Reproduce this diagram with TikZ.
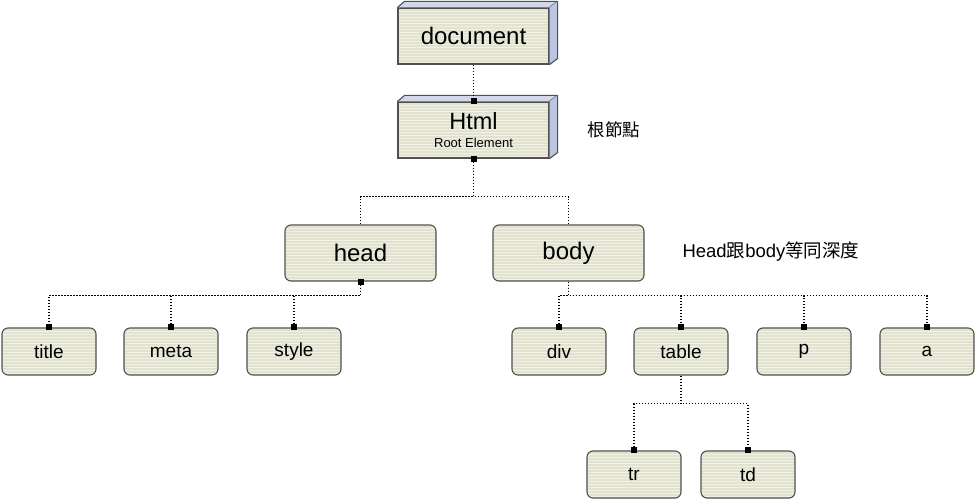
\documentclass[tikz,border=0pt]{standalone}
\usepackage{fontspec}
\setmainfont{Liberation Sans}
\newfontfamily\cjk{Noto Sans CJK TC}
\usetikzlibrary{calc}
\definecolor{boxfill}{HTML}{E2E3CF}
\definecolor{stripe}{HTML}{F0F0E6}
\definecolor{edge}{HTML}{505050}
\definecolor{topface}{HTML}{D2D8EA}
\definecolor{sideface}{HTML}{BCC6E2}
\begin{document}
\begin{tikzpicture}[x=1pt,y=-1pt,
  striped/.style={fill=boxfill, draw=edge, line width=1.1pt,
    path picture={\foreach \k in {1,...,30}{\draw[stripe, line width=0.9pt]
      ([yshift=\k*3pt-1pt]path picture bounding box.south west) -- ([yshift=\k*3pt-1pt]path picture bounding box.south east);}}},
  bigbox/.style={striped, rounded corners=0pt, minimum width=151pt, minimum height=56pt, inner sep=0pt},
  midbox/.style={striped, rounded corners=6pt, minimum width=151pt, minimum height=56pt, inner sep=0pt, font=\fontsize{24}{28}\selectfont},
  leaf/.style={striped, rounded corners=6pt, minimum width=94pt, minimum height=47pt, inner sep=0pt, font=\fontsize{19}{22}\selectfont},
  conn/.style={draw=black, line width=1.6pt, dash pattern=on 1.4pt off 1.6pt},
  mk/.style={fill=black, inner sep=0pt, minimum size=6pt, draw=none},
  face/.style={draw=edge, line width=1.1pt, line join=round}
]
\useasboundingbox (0,0) rectangle (976,500);

% 3D boxes
\node[bigbox, font=\fontsize{24}{28}\selectfont] (doc) at (473.5,36) {document};
\fill[topface] (doc.north west) -- ++(7,-6) -- ($(doc.north east)+(8,-6)$) -- (doc.north east) -- cycle;
\draw[face] (doc.north west) -- ++(7,-6) -- ($(doc.north east)+(8,-6)$) -- (doc.north east);
\fill[sideface] (doc.north east) -- ++(8,-6) -- ($(doc.south east)+(8,-6)$) -- (doc.south east) -- cycle;
\draw[face] ($(doc.north east)+(8,-6)$) -- ($(doc.south east)+(8,-6)$) -- (doc.south east);

\node[bigbox] (html) at (473.5,130) {};
\node[font=\fontsize{23.5}{28}\selectfont] (htmlt) at (473.5,121) {Html};
\node[font=\fontsize{13}{15}\selectfont] (htmls) at (473.5,143) {Root Element};
\fill[topface] (html.north west) -- ++(7,-6) -- ($(html.north east)+(8,-6)$) -- (html.north east) -- cycle;
\draw[face] (html.north west) -- ++(7,-6) -- ($(html.north east)+(8,-6)$) -- (html.north east);
\fill[sideface] (html.north east) -- ++(8,-6) -- ($(html.south east)+(8,-6)$) -- (html.south east) -- cycle;
\draw[face] ($(html.north east)+(8,-6)$) -- ($(html.south east)+(8,-6)$) -- (html.south east);

% level 2
\node[midbox] (head) at (360.5,253) {head};
\node[midbox] (body) at (568.5,253) {body};

% leaves
\node[leaf] (title) at (49,351.5) {title};
\node[leaf] (meta) at (171,351.5) {meta};
\node[leaf] (style) at (294,351.5) {style};
\node[leaf] (div) at (559,351.5) {div};
\node[leaf] (table) at (681,351.5) {table};
\node[leaf] (p) at (804,351.5) {p};
\node[leaf] (a) at (927,351.5) {a};
\node[leaf] (tr) at (634,474.5) {tr};
\node[leaf] (td) at (748,474.5) {td};

% labels
\node[font=\cjk\fontsize{17.5}{20}\selectfont] (lab1) at (614,130) {根節點};
\node[font=\fontsize{18.5}{22}\selectfont, anchor=west] (lab2) at (679,252) {Head\cjk 跟\rmfamily body\cjk 等同深度};

% connectors
\draw[conn] (doc.south) -- (html.north) node[mk]{};
\node[mk] at (html.south) {};
\draw[conn] (html.south) -- ++(0,38) -| (head.north);
\draw[conn] (html.south) -- ++(0,38) -| (body.north);

\node[mk] at (head.south) {};
\foreach \c in {title,meta,style}{
  \draw[conn] (head.south) -- ++(0,14) -| (\c.north) node[mk]{};
}
\foreach \c in {div,table,p,a}{
  \draw[conn] (body.south) -- ++(0,14) -| (\c.north) node[mk]{};
}
\foreach \c in {tr,td}{
  \draw[conn] (table.south) -- ++(0,28) -| (\c.north) node[mk]{};
}
\end{tikzpicture}
\end{document}
